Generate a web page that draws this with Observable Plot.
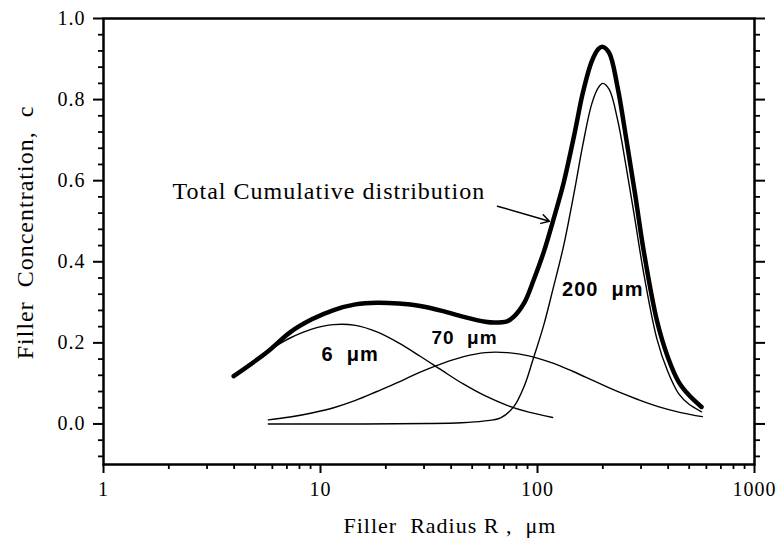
<!DOCTYPE html>
<html>
<head>
<meta charset="utf-8">
<script src="https://cdn.jsdelivr.net/npm/d3@7"></script>
<script src="https://cdn.jsdelivr.net/npm/@observablehq/plot@0.6"></script>
<style>
  html, body { margin: 0; padding: 0; background: #fff; }
</style>
</head>
<body>
<div id="chart"></div>
<script>
// Total cumulative distribution (thick curve)
const totalR = [3.98, 5.70, 7.24, 9.12, 11.5, 14.5, 18.2, 22.9, 28.8, 36.3, 45.7, 57.5, 63.1, 72.4, 77.6, 87.1, 95.5, 107, 117.5, 132, 148, 162, 178, 191, 200, 214, 234, 257, 282, 309, 355, 398, 447, 501, 570];
const totalC = [0.118, 0.178, 0.226, 0.258, 0.281, 0.295, 0.299, 0.297, 0.291, 0.279, 0.264, 0.252, 0.250, 0.253, 0.264, 0.300, 0.352, 0.425, 0.498, 0.595, 0.715, 0.818, 0.895, 0.925, 0.930, 0.915, 0.830, 0.700, 0.565, 0.425, 0.255, 0.166, 0.104, 0.070, 0.042];

// 6 µm component
const r6 = [5.75, 7.24, 9.12, 11.5, 14.5, 18.2, 22.9, 28.8, 36.3, 45.7, 57.5, 72.4, 91.2, 117.5];
const c6 = [0.181, 0.212, 0.234, 0.245, 0.243, 0.227, 0.200, 0.167, 0.132, 0.098, 0.069, 0.046, 0.029, 0.016];

// 70 µm component
const r70 = [5.75, 7.24, 9.12, 11.5, 14.5, 18.2, 22.9, 28.8, 36.3, 45.7, 57.5, 72.4, 91.2, 115, 145, 182, 229, 288, 363, 457, 575];
const c70 = [0.010, 0.017, 0.027, 0.040, 0.058, 0.080, 0.103, 0.128, 0.149, 0.166, 0.176, 0.176, 0.168, 0.152, 0.130, 0.106, 0.082, 0.061, 0.042, 0.028, 0.018];

// 200 µm component
const r200 = [5.75, 15.8, 31.6, 44.7, 56.2, 67.6, 77.6, 87.1, 95.5, 107, 117.5, 132, 148, 162, 178, 191, 200, 214, 234, 257, 282, 309, 355, 398, 447, 501, 570];
const c200 = [0, 0, 0.001, 0.003, 0.007, 0.015, 0.042, 0.095, 0.160, 0.245, 0.330, 0.440, 0.575, 0.690, 0.790, 0.830, 0.840, 0.825, 0.750, 0.630, 0.500, 0.370, 0.210, 0.130, 0.075, 0.048, 0.030];

// Ticks
const xMajor = [1, 10, 100, 1000];
const xMinor = [2, 3, 4, 5, 6, 7, 8, 9, 20, 30, 40, 50, 60, 70, 80, 90, 200, 300, 400, 500, 600, 700, 800, 900];
const yMajor = [0.0, 0.2, 0.4, 0.6, 0.8, 1.0];
const yMinor = [-0.08, -0.04, 0.04, 0.08, 0.12, 0.16, 0.24, 0.28, 0.32, 0.36, 0.44, 0.48, 0.52, 0.56, 0.64, 0.68, 0.72, 0.76, 0.84, 0.88, 0.92, 0.96];

// Texts
const xTitle = "Filler\u00a0 Radius R ,\u00a0 \u03bcm";
const yTitle = "Filler\u00a0 Concentration,\u00a0 c";
const totalLabel = "Total Cumulative distribution";
const sizeLabels = ["6\u00a0 \u03bcm", "70\u00a0 \u03bcm", "200\u00a0 \u03bcm"];

const rows = (R, C) => R.map((r, i) => ({r, c: C[i]}));

const serif = '"Liberation Serif", "Times New Roman", Times, serif';
const sans = '"Liberation Sans", Arial, Helvetica, sans-serif';

const chart = Plot.plot({
  width: 779,
  height: 546,
  marginLeft: 103,
  marginRight: 25,
  marginTop: 18,
  marginBottom: 82,
  style: {fontFamily: serif, fontSize: "20px", background: "#fff", color: "#000", overflow: "visible"},
  x: {type: "log", domain: [1, 1000]},
  y: {domain: [-0.1, 1.0]},
  marks: [
    Plot.axisX(xMinor, {tickSize: 5, tickFormat: () => "", strokeWidth: 1.8, label: null}),
    Plot.axisX(xMajor, {tickSize: 9, tickPadding: 8, tickFormat: d => String(d), strokeWidth: 2, label: null, fontSize: 20}),
    Plot.axisY(yMinor, {anchor: "left", tickSize: 5, tickFormat: () => "", strokeWidth: 1.8, label: null}),
    Plot.axisY(yMajor, {anchor: "left", tickSize: 10, tickPadding: 8, tickFormat: d3.format(".1f"), strokeWidth: 2, label: null, fontSize: 20}),
    Plot.axisY(yMinor, {anchor: "right", tickSize: 5, tickFormat: () => "", strokeWidth: 1.8, label: null}),
    Plot.axisY(yMajor, {anchor: "right", tickSize: 10, tickFormat: () => "", strokeWidth: 2, label: null}),
    Plot.frame({strokeWidth: 2.5, stroke: "#000"}),
    Plot.line(rows(r6, c6), {x: "r", y: "c", curve: "catmull-rom", stroke: "#000", strokeWidth: 1.4}),
    Plot.line(rows(r70, c70), {x: "r", y: "c", curve: "catmull-rom", stroke: "#000", strokeWidth: 1.4}),
    Plot.line(rows(r200, c200), {x: "r", y: "c", curve: "catmull-rom", stroke: "#000", strokeWidth: 1.4}),
    Plot.line(rows(totalR, totalC), {x: "r", y: "c", curve: "catmull-rom", stroke: "#000", strokeWidth: 4.5, strokeLinecap: "round"}),
    Plot.arrow([0], {x1: 65.4, y1: 0.537, x2: 113.5, y2: 0.5, stroke: "#000", strokeWidth: 1.5, headLength: 9}),
    Plot.text([totalLabel], {x: 2.08, y: 0.575, text: d => d, textAnchor: "start", lineAnchor: "middle", fontSize: 24, fontFamily: serif}),
    Plot.text([sizeLabels[0]], {x: 13.7, y: 0.170, text: d => d, textAnchor: "middle", lineAnchor: "middle", fontSize: 20, fontWeight: "bold", fontFamily: sans, ariaLabel: "size-label"}),
    Plot.text([sizeLabels[1]], {x: 46.1, y: 0.213, text: d => d, textAnchor: "middle", lineAnchor: "middle", fontSize: 19, fontWeight: "bold", fontFamily: sans, ariaLabel: "size-label"}),
    Plot.text([sizeLabels[2]], {x: 200, y: 0.331, text: d => d, textAnchor: "middle", lineAnchor: "middle", fontSize: 20, fontWeight: "bold", fontFamily: sans, ariaLabel: "size-label"}),
    Plot.text([xTitle], {frameAnchor: "bottom-left", dx: 240, dy: 61, text: d => d, textAnchor: "start", lineAnchor: "middle", fontSize: 22, fontFamily: serif, ariaLabel: "x-title"}),
    Plot.text([yTitle], {frameAnchor: "left", rotate: -90, dx: -78, dy: -9, text: d => d, textAnchor: "middle", lineAnchor: "middle", fontSize: 24, fontFamily: serif})
  ]
});

d3.select(chart).attr("letter-spacing", "1px");
d3.select(chart).selectAll('g[aria-label="size-label"]').attr("letter-spacing", "0px");
d3.select(chart).selectAll('g[aria-label="x-title"]').attr("letter-spacing", "0px");
document.getElementById("chart").appendChild(chart);
</script>
</body>
</html>
